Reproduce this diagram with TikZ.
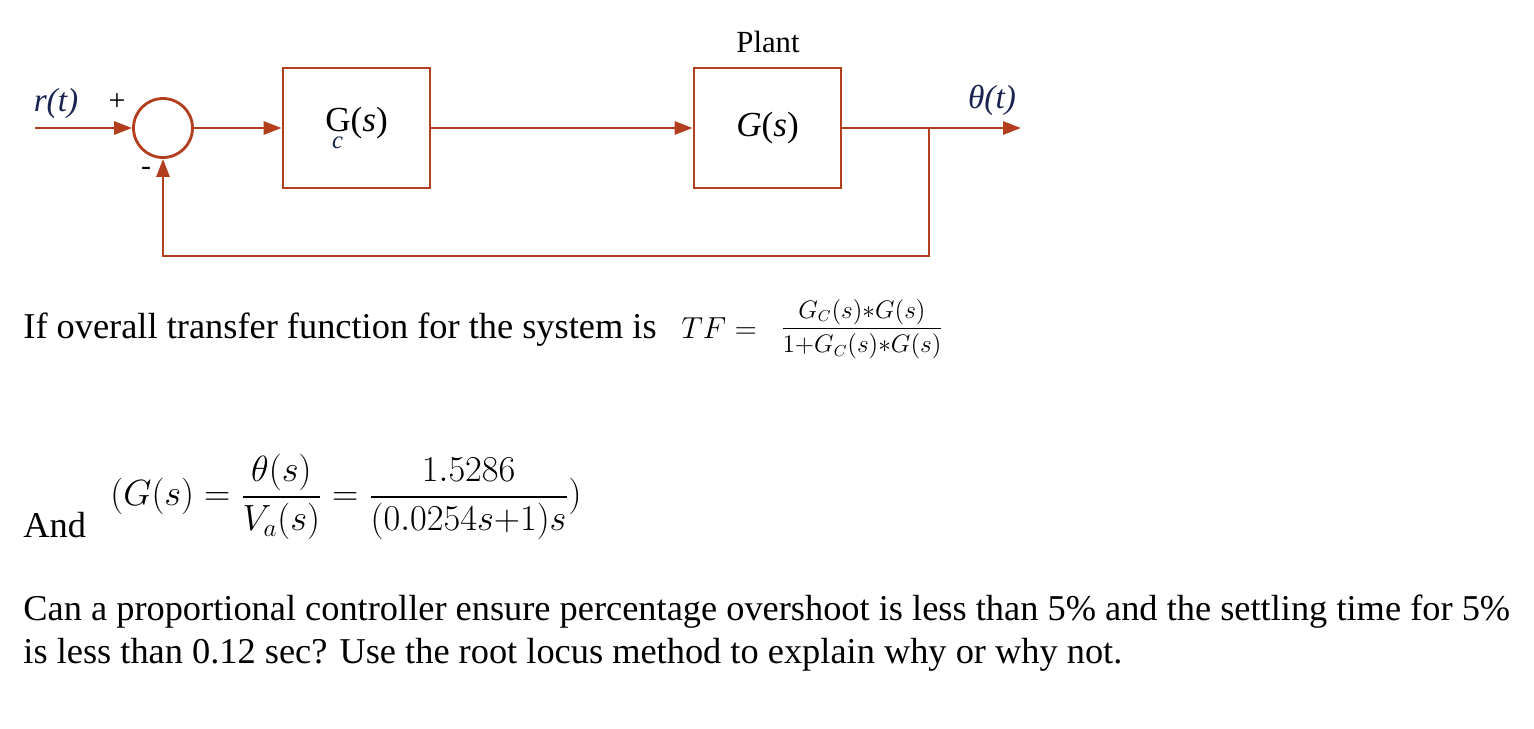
\documentclass[tikz,border=0pt]{standalone}
\usepackage{amsmath,amssymb}
\usepackage{fontspec}
\setmainfont{Liberation Serif}
\usepackage{tikz}
\usetikzlibrary{arrows.meta,positioning,calc}

\definecolor{wire}{RGB}{178,62,30}
\definecolor{sig}{RGB}{25,35,80}

\begin{document}
\begin{tikzpicture}[x=0.02cm, y=-0.02cm, >={Triangle[length=0.36cm,width=0.26cm]}, line width=1.6pt]
        \tikzset{
            block/.style={draw=wire, rectangle, minimum width=2.94cm, minimum height=2.4cm, inner sep=0pt, font=\fontsize{20}{22}\selectfont},
            sumnode/.style={draw=wire, circle, minimum size=1.18cm, inner sep=0pt},
            sig/.style={font=\fontsize{19}{22}\selectfont\itshape, text=sig, inner sep=0pt},
            sign/.style={font=\fontsize{17}{20}\selectfont, inner sep=0pt},
            line/.style={draw=wire, ->},
            txt/.style={anchor=base west, inner sep=0pt, font=\fontsize{20.7}{24}\selectfont}
        }
        \useasboundingbox (0,0) rectangle (1534,728);

        % Block diagram
        \node[sumnode] (sum) at (163,128) {};
        \node[block] (ctrl) at (356.5,128) {G\llap{\raisebox{-0.5em}{\fontsize{14}{14}\selectfont\itshape\color{sig}c}\hspace{0.22em}}(\textit{s})};
        \node[block] (plant) at (767.5,128) {\textit{G}(\textit{s})};
        \node[font=\fontsize{17.5}{20}\selectfont, inner sep=0pt] (plantlbl) at (768,42) {Plant};
        \coordinate (in) at (35,128);
        \coordinate (branch) at (929,128);
        \coordinate (out) at (1021,128);

        \node[sig] (r) at (56,103) {r(t)};
        \node[sig] (theta) at (992,100) {θ(t)};
        \node[sign] (plus) at (117,102) {+};
        \node[sign] (minus) at (146,171) {-};

        % Connections
        \path[line] (in) -- (sum.west);
        \path[line] (sum.east) -- (ctrl.west);
        \path[line] (ctrl.east) -- (plant.west);
        \path[line] (plant.east) -- (out);
        \path[line] (branch) -- ++(0,128) -| (sum.south);

        % Question text
        \node[txt] (q1) at (22,338) {If overall transfer function for the system is};
        \node[txt, font=\fontsize{19}{22}\selectfont] (tf) at (680,338) {$TF=$};
        \node[inner sep=0pt, font=\fontsize{13.5}{16}\selectfont] (tffrac) at (862,329) {$\dfrac{G_C(s){*}G(s)}{1{+}G_C(s){*}G(s)}$};
        \node[txt] (and) at (22,537) {And};
        \node[inner sep=0pt, font=\fontsize{22}{24}\selectfont] (gs) at (346,497) {$(G(s)=\dfrac{\theta(s)}{V_a(s)}=\dfrac{1.5286}{(0.0254s{+}1)s})$};
        \node[txt] (q2) at (22,620) {Can a proportional controller ensure percentage overshoot is less than 5\% and the settling time for 5\%};
        \node[txt] (q3) at (22,663) {is less than 0.12 sec? Use the root locus method to explain why or why not.};
\end{tikzpicture}
\end{document}
